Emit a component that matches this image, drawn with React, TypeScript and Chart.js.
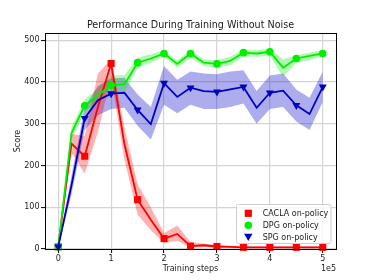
import React, { useEffect, useRef } from 'react';
import { Chart, registerables } from 'chart.js';

Chart.register(...registerables);

// ---- data ----
const steps = [0, 25000, 50000, 75000, 100000, 125000, 150000, 175000, 200000, 225000, 250000,
  275000, 300000, 325000, 350000, 375000, 400000, 425000, 450000, 475000, 500000];

const caclaMean = [5, 252, 222, 340, 444, 252, 118, 70, 25, 36, 7, 9, 6, 5, 4, 4, 4, 4, 4, 4, 4];
const caclaLow = [2, 232, 180, 280, 410, 215, 82, 45, 14, 20, 3, 5, 3, 3, 2, 2, 2, 2, 2, 2, 2];
const caclaHigh = [8, 275, 270, 420, 455, 292, 155, 100, 38, 56, 16, 13, 9, 7, 6, 6, 6, 6, 6, 6, 6];

const dpgMean = [5, 277, 343, 368, 392, 394, 446, 456, 468, 443, 468, 446, 443, 450, 470, 468, 472, 434, 456, 462, 468];
const dpgLow = [3, 262, 328, 352, 372, 374, 434, 446, 460, 434, 458, 438, 434, 440, 460, 460, 462, 412, 446, 452, 462];
const dpgHigh = [8, 292, 358, 385, 415, 416, 458, 466, 476, 452, 476, 454, 452, 460, 478, 476, 480, 454, 464, 470, 476];

const spgMean = [5, 152, 313, 356, 372, 374, 333, 299, 397, 364, 386, 378, 376, 382, 388, 338, 374, 379, 344, 323, 388];
const spgLow = [3, 130, 285, 320, 335, 338, 295, 262, 345, 325, 345, 335, 335, 340, 348, 300, 335, 340, 305, 285, 352];
const spgHigh = [8, 175, 340, 390, 408, 410, 370, 340, 438, 405, 425, 420, 418, 425, 428, 378, 415, 420, 382, 362, 425];

const seriesNames = ['CACLA on-policy', 'DPG on-policy', 'SPG on-policy'];
const xTickValues = [0, 100000, 200000, 300000, 400000, 500000];
const xTickLabels = ['0', '1', '2', '3', '4', '5'];
const yTickValues = [0, 100, 200, 300, 400, 500];
const yTickLabels = ['0', '100', '200', '300', '400', '500'];

const FONT = "'DejaVu Sans', sans-serif";
const TEXT = '#1a1a1a';
const RED = '#ff0000';
const GREEN = '#00ee00';
const BLUE = '#0000c0';

function drawMarker(ctx: CanvasRenderingContext2D, kind: string, x: number, y: number, color: string) {
  ctx.save();
  ctx.fillStyle = color;
  ctx.beginPath();
  if (kind === 'rect') {
    ctx.rect(x - 3.6, y - 3.6, 7.2, 7.2);
  } else if (kind === 'circle') {
    ctx.arc(x, y, 3.8, 0, Math.PI * 2);
  } else {
    ctx.moveTo(x - 4.2, y - 3.6);
    ctx.lineTo(x + 4.2, y - 3.6);
    ctx.lineTo(x, y + 3.8);
    ctx.closePath();
  }
  ctx.fill();
  ctx.restore();
}

const deco = {
  id: 'deco',
  afterDatasetsDraw(chart: any) {
    const { ctx, chartArea: a } = chart;
    ctx.save();
    ctx.strokeStyle = '#000';
    ctx.lineWidth = 1;
    ctx.strokeRect(Math.round(a.left) + 0.5, Math.round(a.top) + 0.5,
      Math.round(a.right - a.left), Math.round(a.bottom - a.top));
    ctx.restore();
  },
  afterDraw(chart: any) {
    const { ctx, chartArea: a } = chart;
    ctx.save();
    // title
    ctx.fillStyle = TEXT;
    ctx.font = `9.6px ${FONT}`;
    ctx.textAlign = 'center';
    ctx.textBaseline = 'middle';
    ctx.fillText('Performance During Training Without Noise', (a.left + a.right) / 2, 25);
    // offset text
    ctx.font = `8px ${FONT}`;
    ctx.textAlign = 'right';
    ctx.fillText('1e5', a.right, 269);
    // legend
    const bx = 236.5, by = 204.5, bw = 94.5, bh = 39;
    ctx.fillStyle = 'rgba(255,255,255,0.8)';
    ctx.strokeStyle = '#cccccc';
    ctx.lineWidth = 1;
    ctx.beginPath();
    (ctx as any).roundRect ? (ctx as any).roundRect(bx, by, bw, bh, 2) : ctx.rect(bx, by, bw, bh);
    ctx.fill();
    ctx.stroke();
    const kinds = ['rect', 'circle', 'tri'];
    const colors = [RED, GREEN, BLUE];
    ctx.textAlign = 'left';
    ctx.textBaseline = 'middle';
    for (let i = 0; i < 3; i++) {
      const yy = 213.3 + i * 12;
      drawMarker(ctx, kinds[i], 248.3, yy, colors[i]);
      ctx.fillStyle = TEXT;
      ctx.font = `8px ${FONT}`;
      ctx.fillText(seriesNames[i], 262.7, yy + 0.5);
    }
    ctx.restore();
  },
};

export default function App() {
  const ref = useRef<HTMLCanvasElement>(null);
  useEffect(() => {
    if (!ref.current) return;
    const pts = (vals: number[]) => steps.map((x, i) => ({ x, y: vals[i] }));
    const markerRadius = (r: number) => steps.map((_, i) => (i % 2 === 0 ? r : 0));

    const band = (low: number[], high: number[], color: string) => [
      { data: pts(low), borderColor: 'transparent', borderWidth: 0, pointRadius: 0, fill: false, order: 10 },
      { data: pts(high), borderColor: 'transparent', borderWidth: 0, pointRadius: 0, fill: '-1', backgroundColor: color, order: 10 },
    ];
    const line = (label: string, vals: number[], color: string, style: string, r: number, rot: number, order: number) => ({
      label,
      data: pts(vals),
      borderColor: color,
      backgroundColor: color,
      borderWidth: 1.8,
      pointStyle: style,
      pointRadius: markerRadius(r),
      pointHoverRadius: markerRadius(r),
      pointBorderWidth: 0,
      pointBackgroundColor: color,
      pointRotation: rot,
      fill: false,
      tension: 0,
      clip: false,
      order,
    });

    const gridCommon = {
      color: '#d4d4d4',
      lineWidth: 1.2,
      tickLength: 4,
      tickColor: '#000',
      tickWidth: 1,
      drawTicks: true,
    };

    const chart = new Chart(ref.current, {
      type: 'line',
      data: {
        datasets: [
          ...band(caclaLow, caclaHigh, 'rgba(255,0,0,0.3)'),
          ...band(dpgLow, dpgHigh, 'rgba(0,230,0,0.3)'),
          ...band(spgLow, spgHigh, 'rgba(0,0,200,0.32)'),
          line(seriesNames[0], caclaMean, RED, 'rect', 5, 0, 3),
          line(seriesNames[1], dpgMean, GREEN, 'circle', 3.8, 0, 2),
          line(seriesNames[2], spgMean, BLUE, 'triangle', 4.6, 180, 1),
        ] as any,
      },
      options: {
        animation: false,
        responsive: false,
        devicePixelRatio: 1,
        layout: { padding: { left: 0, right: 38, top: 33, bottom: 0 } },
        plugins: {
          legend: { display: false },
          title: { display: false },
          tooltip: { enabled: false },
        },
        events: [],
        scales: {
          x: {
            type: 'linear',
            min: -25000,
            max: 525000,
            afterBuildTicks: (s: any) => { s.ticks = xTickValues.map((v) => ({ value: v })); },
            afterFit: (s: any) => { s.height = 31; },
            ticks: {
              callback: (_v: any, i: number) => xTickLabels[i],
              font: { family: FONT, size: 8 },
              color: TEXT,
              padding: 1,
              maxRotation: 0,
              autoSkip: false,
            },
            grid: gridCommon,
            border: { display: false },
            title: {
              display: true,
              text: 'Training steps',
              font: { family: FONT, size: 8 },
              color: TEXT,
              padding: { top: 0, bottom: 6 },
            },
          },
          y: {
            type: 'linear',
            min: 0,
            max: 517,
            afterBuildTicks: (s: any) => { s.ticks = yTickValues.map((v) => ({ value: v })); },
            afterFit: (s: any) => { s.width = 45; },
            ticks: {
              callback: (_v: any, i: number) => yTickLabels[i],
              font: { family: FONT, size: 8 },
              color: TEXT,
              padding: 1.5,
              autoSkip: false,
            },
            grid: gridCommon,
            border: { display: false },
            title: {
              display: true,
              text: 'Score',
              font: { family: FONT, size: 8 },
              color: TEXT,
              padding: { top: 13, bottom: 0 },
            },
          },
        },
      } as any,
      plugins: [deco],
    });
    return () => chart.destroy();
  }, []);

  return (
    <div style={{ position: 'absolute', left: 0, top: 0, width: 374, height: 280, background: '#fff' }}>
      <canvas ref={ref} width={374} height={280} style={{ display: 'block' }} />
    </div>
  );
}
